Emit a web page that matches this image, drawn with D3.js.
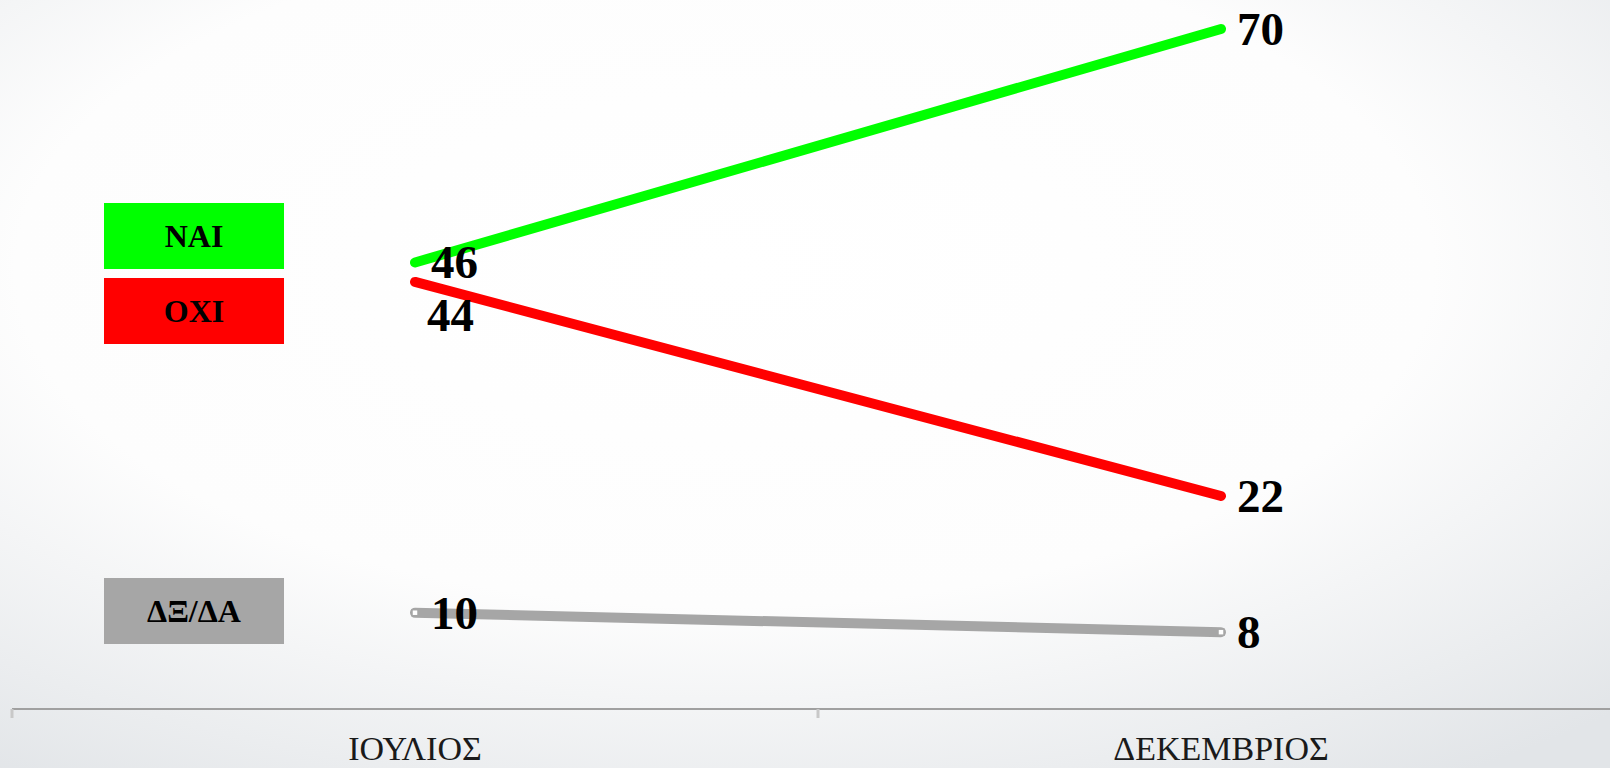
<!DOCTYPE html>
<html>
<head>
<meta charset="utf-8">
<script src="https://cdn.jsdelivr.net/npm/d3@7"></script>
<style>
html,body{margin:0;padding:0;overflow:hidden;}
svg{display:block;}
</style>
</head>
<body>
<svg id="chart" width="1610" height="768"></svg>
<script>
// ---- data ----
const categories = ["ΙΟΥΛΙΟΣ", "ΔΕΚΕΜΒΡΙΟΣ"];
const seriesNames = ["ΝΑΙ", "ΟΧΙ", "ΔΞ/ΔΑ"];
const seriesColors = ["#00ff00", "#ff0000", "#a6a6a6"];
const naiValues = [46, 70];
const oxiValues = [44, 22];
const dkdaValues = [10, 8];

const series = [
  {name: seriesNames[0], color: seriesColors[0], values: naiValues},
  {name: seriesNames[1], color: seriesColors[1], values: oxiValues},
  {name: seriesNames[2], color: seriesColors[2], values: dkdaValues}
];

const W = 1610, H = 768;
const svg = d3.select("#chart");

// background gradient
const defs = svg.append("defs");
const grad = defs.append("radialGradient").attr("id", "bg")
  .attr("cx", "45%").attr("cy", "35%").attr("r", "80%");
grad.append("stop").attr("offset", "0%").attr("stop-color", "#ffffff");
grad.append("stop").attr("offset", "55%").attr("stop-color", "#fdfdfd");
grad.append("stop").attr("offset", "100%").attr("stop-color", "#e2e5e8");
svg.append("rect").attr("width", W).attr("height", H).attr("fill", "url(#bg)");

// scales
const x = d3.scaleBand().domain(categories).range([12, 1624]).paddingInner(0).paddingOuter(0);
const y = d3.scaleLinear().domain([0, 70]).range([710, 29]);
const cx = c => x(c) + x.bandwidth() / 2;

// axis
const axisG = svg.append("g").attr("transform", `translate(0,${709})`);
const axis = d3.axisBottom(x).tickSize(0).tickPadding(0);
axisG.call(axis);
axisG.select(".domain").remove();
axisG.append("line").attr("x1", 12).attr("x2", W).attr("y1", 0).attr("y2", 0)
  .attr("stroke", "#a0a0a0").attr("stroke-width", 2);
// tick marks at category boundaries
axisG.selectAll(".bound").data(categories).enter().append("line")
  .attr("class", "bound")
  .attr("x1", d => x(d)).attr("x2", d => x(d))
  .attr("y1", 0).attr("y2", 9)
  .attr("stroke", "#c8c8c8").attr("stroke-width", 3);
axisG.selectAll(".tick text")
  .attr("y", 51)
  .attr("dy", 0)
  .attr("font-family", "Liberation Serif, Times New Roman, serif")
  .attr("font-size", 34)
  .attr("fill", "#1a1a1a");

// lines
const line = d3.line().x((d, i) => cx(categories[i])).y(d => y(d));
series.forEach(s => {
  svg.append("path")
    .attr("d", line(s.values))
    .attr("fill", "none")
    .attr("stroke", s.color)
    .attr("stroke-width", 10)
    .attr("stroke-linecap", "round");
});

// small square markers on the ΔΞ/ΔΑ line
svg.selectAll(".mk").data(dkdaValues).enter().append("rect")
  .attr("class", "mk")
  .attr("x", (d, i) => cx(categories[i]) - 3)
  .attr("y", d => y(d) - 3)
  .attr("width", 6).attr("height", 6)
  .attr("fill", "#ffffff").attr("stroke", "#a6a6a6").attr("stroke-width", 1.5);

// value labels
const labelFont = "Liberation Serif, Times New Roman, serif";
series.forEach((s, si) => {
  s.values.forEach((v, i) => {
    // the lower of the two crossing series at the first point goes below its line
    const other = si === 1 ? naiValues[i] : null;
    const below = other !== null && i === 0 && Math.abs(other - v) < 5;
    svg.append("text")
      .attr("x", cx(categories[i]) + (below ? 12 : 16))
      .attr("y", y(v) + (below ? 49 : 16))
      .attr("font-family", labelFont)
      .attr("font-weight", "bold")
      .attr("font-size", 47)
      .attr("fill", "#000")
      .text(v);
  });
});

// legend boxes
const legendTop = [203, 278, 578];
const lg = svg.append("g");
series.forEach((s, i) => {
  lg.append("rect")
    .attr("x", 104).attr("y", legendTop[i])
    .attr("width", 180).attr("height", 66)
    .attr("fill", s.color);
  lg.append("text")
    .attr("x", 194).attr("y", legendTop[i] + 33)
    .attr("dy", "0.35em")
    .attr("text-anchor", "middle")
    .attr("font-family", labelFont)
    .attr("font-weight", "bold")
    .attr("font-size", 32)
    .attr("fill", "#000")
    .text(s.name);
});
</script>
</body>
</html>
